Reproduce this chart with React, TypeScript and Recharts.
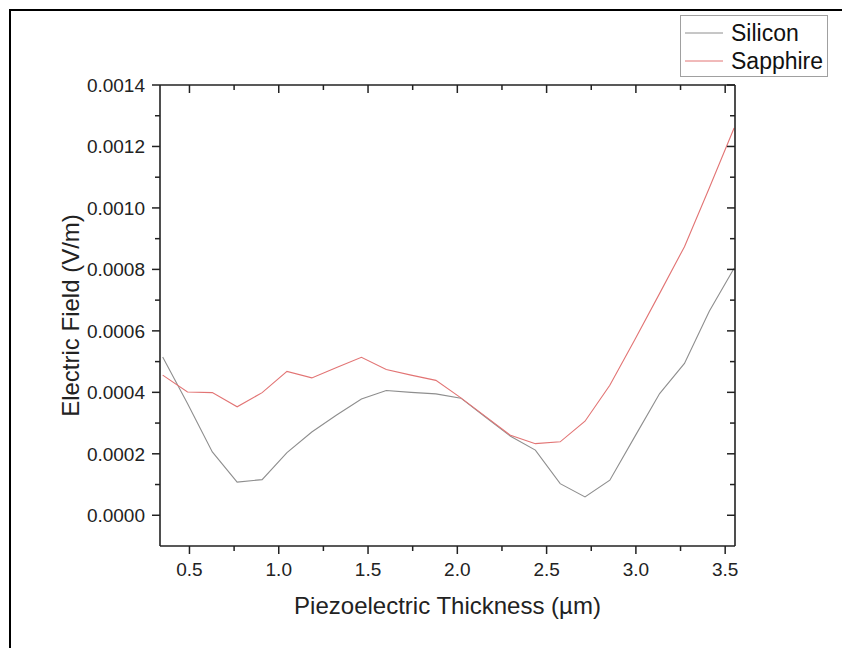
import React from 'react';
import { LineChart, Line, XAxis, YAxis, Legend } from 'recharts';

// Piezoelectric thickness (µm)
const thickness = [
  0.35, 0.489, 0.628, 0.767, 0.907, 1.046, 1.185, 1.324, 1.463, 1.602, 1.741, 1.88,
  2.02, 2.159, 2.298, 2.437, 2.576, 2.715, 2.854, 2.993, 3.133, 3.272, 3.411, 3.55,
];
// Electric field (V/m)
const silicon = [
  0.000515, 0.000364, 0.000206, 0.000108, 0.000116, 0.000204, 0.000271, 0.000326,
  0.000378, 0.000406, 0.0004, 0.000395, 0.000381, 0.000319, 0.000257, 0.000212,
  0.000103, 0.0000596, 0.000114, 0.000255, 0.000396, 0.000494, 0.000664, 0.000804,
];
const sapphire = [
  0.000456, 0.000401, 0.000399, 0.000353, 0.000399, 0.000468, 0.000447, 0.000481,
  0.000514, 0.000474, 0.000456, 0.000439, 0.000382, 0.000321, 0.00026, 0.000233,
  0.000239, 0.000306, 0.000423, 0.00057, 0.000722, 0.000874, 0.001065, 0.00126,
];

const xMajorTicks = [0.5, 1.0, 1.5, 2.0, 2.5, 3.0, 3.5];
const xMinorTicks = [0.75, 1.25, 1.75, 2.25, 2.75, 3.25];
const yMajorTicks = [0, 0.0002, 0.0004, 0.0006, 0.0008, 0.001, 0.0012, 0.0014];
const yMinorTicks = [0.0001, 0.0003, 0.0005, 0.0007, 0.0009, 0.0011, 0.0013];

const seriesNames = { silicon: 'Silicon', sapphire: 'Sapphire' };

const data = thickness.map((x, i) => ({ x, silicon: silicon[i], sapphire: sapphire[i] }));
const xTicks = [...xMajorTicks, ...xMinorTicks].sort((a, b) => a - b);
const yTicks = [...yMajorTicks, ...yMinorTicks].sort((a, b) => a - b);

const FONT = '"Liberation Sans", Arial, Helvetica, sans-serif';
const AXIS = '#222';
const SILICON_COLOR = '#8e8e8e';
const SAPPHIRE_COLOR = '#e27474';

const legendItems = [
  { name: seriesNames.silicon, color: SILICON_COLOR },
  { name: seriesNames.sapphire, color: SAPPHIRE_COLOR },
];

const isMajor = (v: number, majors: number[]) => majors.some((m) => Math.abs(m - v) < 1e-9);

const BottomTick = (props: any) => {
  const { x, y, payload } = props;
  const major = isMajor(payload.value, xMajorTicks);
  return (
    <g>
      <line x1={x} y1={y} x2={x} y2={y + (major ? 8 : 5)} stroke={AXIS} strokeWidth={1.5} />
      {major && (
        <text x={x} y={y + 17} dy="0.71em" textAnchor="middle" fontSize={19} fill="#222" fontFamily={FONT}>
          {payload.value.toFixed(1)}
        </text>
      )}
    </g>
  );
};

const TopTick = (props: any) => {
  const { x, y, payload } = props;
  const major = isMajor(payload.value, xMajorTicks);
  return <line x1={x} y1={y} x2={x} y2={y + (major ? 8 : 5)} stroke={AXIS} strokeWidth={1.5} />;
};

const LeftTick = (props: any) => {
  const { x, y, payload } = props;
  const major = isMajor(payload.value, yMajorTicks);
  return (
    <g>
      <line x1={x} y1={y} x2={x - (major ? 8 : 5)} y2={y} stroke={AXIS} strokeWidth={1.5} />
      {major && (
        <text x={x - 15} y={y} dy="0.355em" textAnchor="end" fontSize={19} fill="#222" fontFamily={FONT}>
          {payload.value.toFixed(4)}
        </text>
      )}
    </g>
  );
};

const RightTick = (props: any) => {
  const { x, y, payload } = props;
  const major = isMajor(payload.value, yMajorTicks);
  return <line x1={x} y1={y} x2={x - (major ? 8 : 5)} y2={y} stroke={AXIS} strokeWidth={1.5} />;
};

const LegendBox = () => (
  <div
    style={{
      width: 148,
      height: 62,
      boxSizing: 'border-box',
      border: '1px solid #a0a0a0',
      background: '#fff',
      fontFamily: FONT,
      fontSize: 23,
      color: '#111',
      position: 'relative',
    }}
  >
    {legendItems.map((it, i) => (
      <div
        key={it.name}
        style={{ position: 'absolute', left: 0, top: 3 + i * 28, height: 28, display: 'flex', alignItems: 'center' }}
      >
        <svg width={44} height={28} style={{ display: 'block' }}>
          <line x1={4} y1={14} x2={42} y2={14} stroke={it.color} strokeWidth={1} />
        </svg>
        <span style={{ marginLeft: 6, lineHeight: '28px' }}>{it.name}</span>
      </div>
    ))}
  </div>
);

export default function App() {
  return (
    <div style={{ position: 'fixed', left: 0, top: 0, width: 842, height: 648, overflow: 'hidden', background: '#fff' }}>
      <div
        style={{
          position: 'absolute',
          left: 9,
          top: 9,
          width: 900,
          height: 700,
          borderTop: '2px solid #000',
          borderLeft: '2px solid #000',
        }}
      />
      <div style={{ position: 'absolute', left: 0, top: 0 }}>
        <LineChart width={842} height={648} data={data} margin={{ top: 65, right: 87, bottom: 34, left: 70 }}>
          <XAxis
            dataKey="x"
            type="number"
            domain={[0.335, 3.555]}
            allowDataOverflow
            ticks={xTicks}
            interval={0}
            tick={<BottomTick />}
            tickLine={false}
            tickSize={0}
            tickMargin={0}
            axisLine={{ stroke: AXIS, strokeWidth: 1.6 }}
            height={68}
            label={{
              value: 'Piezoelectric Thickness (µm)',
              position: 'insideBottom',
              offset: 0,
              fontSize: 24,
              fill: '#222',
              fontFamily: FONT,
            }}
          />
          <XAxis
            xAxisId="top"
            orientation="top"
            dataKey="x"
            type="number"
            domain={[0.335, 3.555]}
            allowDataOverflow
            ticks={xTicks}
            interval={0}
            tick={<TopTick />}
            tickLine={false}
            tickSize={0}
            tickMargin={0}
            axisLine={{ stroke: AXIS, strokeWidth: 1.6 }}
            height={20}
          />
          <YAxis
            type="number"
            domain={[-0.0001, 0.0014]}
            allowDataOverflow
            ticks={yTicks}
            interval={0}
            tick={<LeftTick />}
            tickLine={false}
            tickSize={0}
            tickMargin={0}
            axisLine={{ stroke: AXIS, strokeWidth: 1.6 }}
            width={90}
            label={{
              value: 'Electric Field (V/m)',
              angle: -90,
              position: 'insideLeft',
              offset: 0,
              fontSize: 24,
              fill: '#222',
              fontFamily: FONT,
              style: { textAnchor: 'middle' },
            }}
          />
          <YAxis
            yAxisId="right"
            orientation="right"
            type="number"
            domain={[-0.0001, 0.0014]}
            allowDataOverflow
            ticks={yTicks}
            interval={0}
            tick={<RightTick />}
            tickLine={false}
            tickSize={0}
            tickMargin={0}
            axisLine={{ stroke: AXIS, strokeWidth: 1.6 }}
            width={20}
          />
          <Legend
            layout="horizontal"
            verticalAlign="middle"
            align="center"
            content={<LegendBox />}
            wrapperStyle={{ left: 680, top: 15, width: 148, height: 62 }}
          />
          <Line
            type="linear"
            dataKey="silicon"
            name={seriesNames.silicon}
            stroke={SILICON_COLOR}
            strokeWidth={1.1}
            dot={false}
            activeDot={false}
            isAnimationActive={false}
          />
          <Line
            type="linear"
            dataKey="sapphire"
            name={seriesNames.sapphire}
            stroke={SAPPHIRE_COLOR}
            strokeWidth={1.1}
            dot={false}
            activeDot={false}
            isAnimationActive={false}
          />
        </LineChart>
      </div>
    </div>
  );
}
